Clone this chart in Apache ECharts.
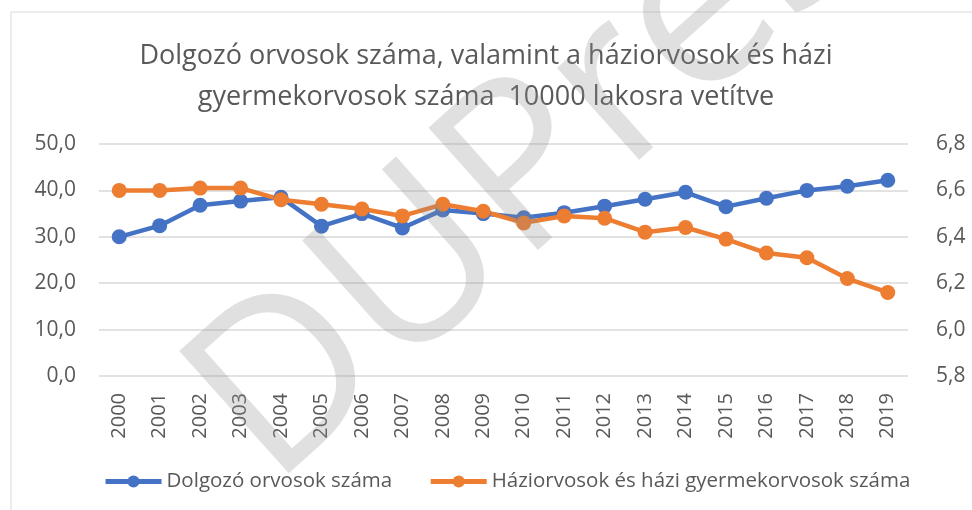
<!DOCTYPE html>
<html>
<head>
<meta charset="utf-8">
<script src="https://cdn.jsdelivr.net/npm/echarts@6/dist/echarts.min.js"></script>
<style>
  html, body { margin: 0; padding: 0; background: #fff; }
  #chart { width: 972px; height: 510px; }
</style>
</head>
<body>
<div id="chart"></div>
<script>
// évek
var years = ['2000', '2001', '2002', '2003', '2004', '2005', '2006', '2007', '2008', '2009',
             '2010', '2011', '2012', '2013', '2014', '2015', '2016', '2017', '2018', '2019'];
// dolgozó orvosok 10000 lakosra (bal tengely)
var dolgozoOrvosok = [30.0, 32.4, 36.8, 37.7, 38.5, 32.3, 35.0, 31.9, 35.8, 35.0,
                      34.1, 35.2, 36.6, 38.1, 39.6, 36.5, 38.3, 40.0, 40.9, 42.2];
// háziorvosok és házi gyermekorvosok 10000 lakosra (jobb tengely)
var haziorvosok = [6.60, 6.60, 6.61, 6.61, 6.56, 6.54, 6.52, 6.49, 6.54, 6.51,
                   6.46, 6.49, 6.48, 6.42, 6.44, 6.39, 6.33, 6.31, 6.22, 6.16];
var seriesNames = ['Dolgozó orvosok száma', 'Háziorvosok és házi gyermekorvosok száma'];
var titleLines = ['Dolgozó orvosok száma, valamint a háziorvosok és házi',
                  'gyermekorvosok száma  10000 lakosra vetítve'];

var txt = '#595959';
var font = '"Open Sans", "Noto Sans", sans-serif';
function comma(v) { return v.toFixed(1).replace('.', ','); }

var myChart = echarts.init(document.getElementById('chart'));
myChart.setOption({
    animation: false,
    textStyle: { fontFamily: font },
    title: {
        text: titleLines.join('\n'),
        left: 'center',
        top: 31,
        textStyle: { fontSize: 27, fontWeight: 'normal', color: txt, lineHeight: 41, fontFamily: font }
    },
    legend: {
        top: 466,
        left: 98,
        itemGap: 36,
        itemWidth: 56,
        itemHeight: 15,
        lineStyle: { width: 5 },
        itemStyle: { borderWidth: 0 },
        textStyle: { fontSize: 20.5, color: txt },
        data: seriesNames
    },
    grid: { left: 99, right: 64, top: 144, bottom: 134 },
    xAxis: {
        type: 'category',
        boundaryGap: true,
        data: years,
        axisLine: { show: false },
        axisTick: { show: false },
        axisLabel: { rotate: 90, interval: 0, color: txt, fontSize: 20, margin: 17 }
    },
    yAxis: [
        {
            type: 'value', min: 0, max: 50, interval: 10,
            axisLine: { show: false }, axisTick: { show: false },
            splitLine: { lineStyle: { color: '#d9d9d9', width: 1.5 } },
            axisLabel: { color: txt, fontSize: 21, margin: 23, formatter: comma }
        },
        {
            type: 'value', min: 5.8, max: 6.8, interval: 0.2,
            axisLine: { show: false }, axisTick: { show: false },
            splitLine: { show: false },
            axisLabel: { color: txt, fontSize: 21, margin: 28, formatter: comma }
        }
    ],
    series: [
        {
            name: seriesNames[0], type: 'line', yAxisIndex: 0,
            data: dolgozoOrvosok,
            color: '#4472c4',
            symbol: 'circle', symbolSize: 15,
            lineStyle: { width: 4.5 }
        },
        {
            name: seriesNames[1], type: 'line', yAxisIndex: 1,
            data: haziorvosok,
            color: '#ed7d31',
            symbol: 'circle', symbolSize: 15,
            lineStyle: { width: 4.5 }
        }
    ],
    graphic: [
        {
            type: 'rect', silent: true, z: -10,
            shape: { x: 11, y: 12, width: 1000, height: 600 },
            style: { fill: 'none', stroke: '#d9d9d9', lineWidth: 1 }
        },
        {
            // vízjel
            type: 'text', silent: true, z: 100,
            x: 305, y: 525, rotation: 0.73,
            style: {
                text: 'DUPress',
                fontSize: 230,
                fontFamily: '"Open Sans", sans-serif',
                fill: 'rgba(140,140,140,0.27)',
                textVerticalAlign: 'bottom'
            }
        }
    ]
});
</script>
</body>
</html>
